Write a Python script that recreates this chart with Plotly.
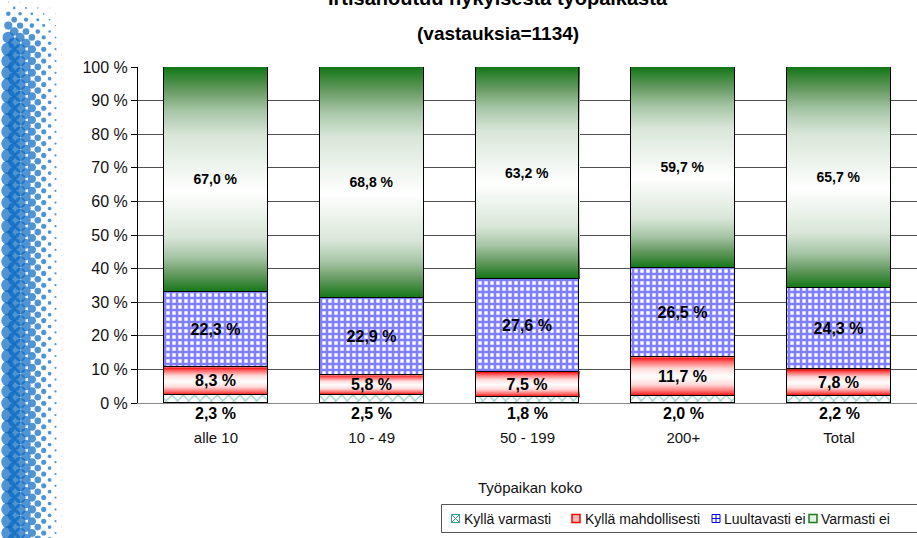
import plotly.graph_objects as go

# ---- data -------------------------------------------------------------
categories = ["alle 10", "10 - 49", "50 - 199", "200+", "Total"]
kylla_varmasti = [2.3, 2.5, 1.8, 2.0, 2.2]
kylla_mahdollisesti = [8.3, 5.8, 7.5, 11.7, 7.8]
luultavasti_ei = [22.3, 22.9, 27.6, 26.5, 24.3]
varmasti_ei = [67.0, 68.8, 63.2, 59.7, 65.7]
series_names = ["Kyllä varmasti", "Kyllä mahdollisesti", "Luultavasti ei", "Varmasti ei"]
y_ticks = list(range(0, 101, 10))

title_line1 = "Irtisanoutuu nykyisestä työpaikasta"
title_line2 = "(vastauksia=1134)"
x_title = "Työpaikan koko"

# ---- styling ----------------------------------------------------------
W, H = 917, 538
FONT = "Liberation Sans, Arial, sans-serif"
BAR_W = 0.667
xs = list(range(len(categories)))


def fmt(v):
    return f"{v:.1f}".replace(".", ",") + " %"


def stack_bases(*layers):
    bases, run = [], [0.0] * len(xs)
    for layer in layers:
        bases.append(list(run))
        run = [r + v for r, v in zip(run, layer)]
    return bases


base_kv, base_km, base_le, base_ve = stack_bases(
    kylla_varmasti, kylla_mahdollisesti, luultavasti_ei, varmasti_ei)


def gradient_heatmap(bottoms, heights, white_at, colorscale):
    """Vertical gradient fill for one stacked segment per bar, drawn as a
    heatmap on the data axes (white at `white_at`, full colour at edges)."""
    step = 0.1
    top = max(b + h for b, h in zip(bottoms, heights))
    n = int(round(top / step)) + 2
    y_edges = [k * step for k in range(n + 1)]
    x_edges = []
    for i in xs:
        x_edges += [i - BAR_W / 2, i + BAR_W / 2]
    z = []
    for k in range(n):
        yc = (k + 0.5) * step
        row = []
        for i in xs:
            b, h = bottoms[i], heights[i]
            if b <= yc < b + h:
                t = (yc - b) / h
                if t >= white_at:
                    row.append((t - white_at) / (1 - white_at))
                else:
                    row.append((white_at - t) / white_at)
            else:
                row.append(None)
            if i < xs[-1]:
                row.append(None)
        z.append(row)
    return go.Heatmap(x=x_edges, y=y_edges, z=z, zmin=0, zmax=1,
                      colorscale=colorscale, showscale=False,
                      hoverinfo="skip", xaxis="x", yaxis="y")


fig = go.Figure()

# gradient fills behind the transparent bars
fig.add_trace(gradient_heatmap(
    base_ve, varmasti_ei, 0.45,
    [[0, "#ffffff"], [0.45, "#d8e6d8"], [0.65, "#a6c5a6"],
     [0.82, "#64995f"], [1, "#127616"]]))
fig.add_trace(gradient_heatmap(
    base_km, kylla_mahdollisesti, 0.5,
    [[0, "#ffffff"], [0.4, "#ffdada"], [0.75, "#ff6a6a"], [1, "#f00000"]]))

outline = dict(color="black", width=1)
label_big = dict(family=FONT, size=16, color="black", weight="bold")
label_small = dict(family=FONT, size=14, color="black", weight="bold")

fig.add_trace(go.Bar(
    x=xs, y=kylla_varmasti, width=BAR_W, name=series_names[0],
    marker=dict(color="white", line=outline,
                pattern=dict(shape="x", fgcolor="#3a9e9e", bgcolor="white",
                             size=8, solidity=0.3)),
    hoverinfo="skip"))
fig.add_trace(go.Bar(
    x=xs, y=kylla_mahdollisesti, width=BAR_W, name=series_names[1],
    marker=dict(color="rgba(0,0,0,0)", line=outline),
    text=[fmt(v) for v in kylla_mahdollisesti], textposition="inside",
    insidetextanchor="middle", textangle=0, constraintext="none",
    textfont=label_big, hoverinfo="skip"))
fig.add_trace(go.Bar(
    x=xs, y=luultavasti_ei, width=BAR_W, name=series_names[2],
    marker=dict(color="white", line=outline,
                pattern=dict(shape="+", fgcolor="#0000ff", bgcolor="white",
                             size=6, solidity=0.68)),
    text=[fmt(v) for v in luultavasti_ei], textposition="inside",
    insidetextanchor="middle", textangle=0, constraintext="none",
    textfont=label_big, hoverinfo="skip"))
fig.add_trace(go.Bar(
    x=xs, y=varmasti_ei, width=BAR_W, name=series_names[3],
    marker=dict(color="rgba(0,0,0,0)", line=outline),
    text=[fmt(v) for v in varmasti_ei], textposition="inside",
    insidetextanchor="middle", textangle=0, constraintext="none",
    textfont=label_small, hoverinfo="skip"))

annotations = []
# values of the bottom segment sit just under the axis
for i, v in zip(xs, kylla_varmasti):
    annotations.append(dict(x=i, y=0, xref="x", yref="y", text=fmt(v),
                            showarrow=False, yanchor="top", yshift=0,
                            font=label_big))

# ---- decorative halftone strip on the left edge (pixel overlay axes) ---
dot_x, dot_y, dot_s = [], [], []
pitch = 5.9
for j in range(int(H / pitch) + 2):
    yy = 2 + j * pitch
    fade = min(1.0, max(0.0, (yy + 2) / 48))
    for i in range(10):
        if (i + j) % 2:
            continue
        xx = 8.3 + i * pitch
        d = (14.0 - (xx - 8.3) * 0.25) * fade
        if d > 0.6:
            dot_x.append(xx)
            dot_y.append(yy)
            dot_s.append(d)
fig.add_trace(go.Scatter(
    x=dot_x, y=dot_y, mode="markers", xaxis="x2", yaxis="y2",
    marker=dict(size=dot_s, color="#0566c0", line=dict(width=0)),
    hoverinfo="skip", showlegend=False))

# ---- legend drawn in pixel space --------------------------------------
legend_items = [
    (455.5, 462.5, dict(symbol="square-x", color="white",
                        line=dict(color="#3a9a9a", width=1))),
    (576, 583.5, dict(symbol="square", color="#ffb8b8",
                      line=dict(color="#ff0000", width=1.5))),
    (716, 723, dict(symbol="square-cross", color="white",
                    line=dict(color="#0000ff", width=1))),
    (813, 820, dict(symbol="square", color="#e6f0e6",
                    line=dict(color="#1a7a1a", width=1.5))),
]
for (sx, tx, mk), name in zip(legend_items, series_names):
    fig.add_trace(go.Scatter(
        x=[sx], y=[518.5], mode="markers", xaxis="x2", yaxis="y2",
        marker=dict(size=8, **mk), hoverinfo="skip", showlegend=False))
    annotations.append(dict(x=tx, y=518.5, xref="x2", yref="y2", text=name,
                            showarrow=False, xanchor="left", yanchor="middle",
                            borderpad=0,
                            font=dict(family=FONT, size=14, color="#111")))

shapes = [dict(type="rect", xref="x2", yref="y2", x0=441.5, x1=935,
               y0=504.5, y1=532.5, line=dict(color="#555", width=1))]

# titles (first line runs off the top of the canvas)
annotations += [
    dict(x=498 / W, y=1 + 2 / H, xref="paper", yref="paper", text=title_line1,
         showarrow=False, xanchor="center", yanchor="middle",
         font=dict(family=FONT, size=20, color="black", weight="bold")),
    dict(x=498, y=33, xref="x2", yref="y2", text=title_line2, showarrow=False,
         font=dict(family=FONT, size=19, color="black", weight="bold")),
    dict(x=530, y=487, xref="x2", yref="y2", text=x_title, showarrow=False,
         font=dict(family=FONT, size=15, color="#111")),
]

fig.update_layout(
    width=W, height=H,
    margin=dict(l=0, r=0, t=0, b=0, pad=0, autoexpand=False),
    paper_bgcolor="white", plot_bgcolor="rgba(0,0,0,0)",
    barmode="stack", bargap=0, showlegend=False,
    font=dict(family=FONT, color="#111"),
    xaxis=dict(domain=[138 / W, 1], range=[-0.5, 4.5], tickvals=xs,
               ticktext=categories, ticks="", showgrid=False,
               zeroline=False, showline=True, linecolor="#888",
               linewidth=1, ticklabelstandoff=21, automargin=False,
               tickfont=dict(family=FONT, size=15, color="#111"),
               anchor="y", fixedrange=True),
    yaxis=dict(domain=[(H - 403) / H, (H - 67) / H], range=[0, 100],
               tickvals=y_ticks, ticktext=[f"{v} %" for v in y_ticks],
               ticks="outside", ticklen=6, tickcolor="black",
               showline=True, linecolor="black", linewidth=1,
               showgrid=True, gridcolor="#505050", gridwidth=1,
               zeroline=False, anchor="x", automargin=False,
               tickfont=dict(family=FONT, size=16, color="#111"),
               fixedrange=True),
    xaxis2=dict(domain=[0, 1], range=[0, W], visible=False, anchor="y2",
                fixedrange=True, automargin=False),
    yaxis2=dict(domain=[0, 1], range=[H, 0], visible=False, anchor="x2",
                fixedrange=True, automargin=False),
    annotations=annotations, shapes=shapes,
)

fig.write_html("out.html")
